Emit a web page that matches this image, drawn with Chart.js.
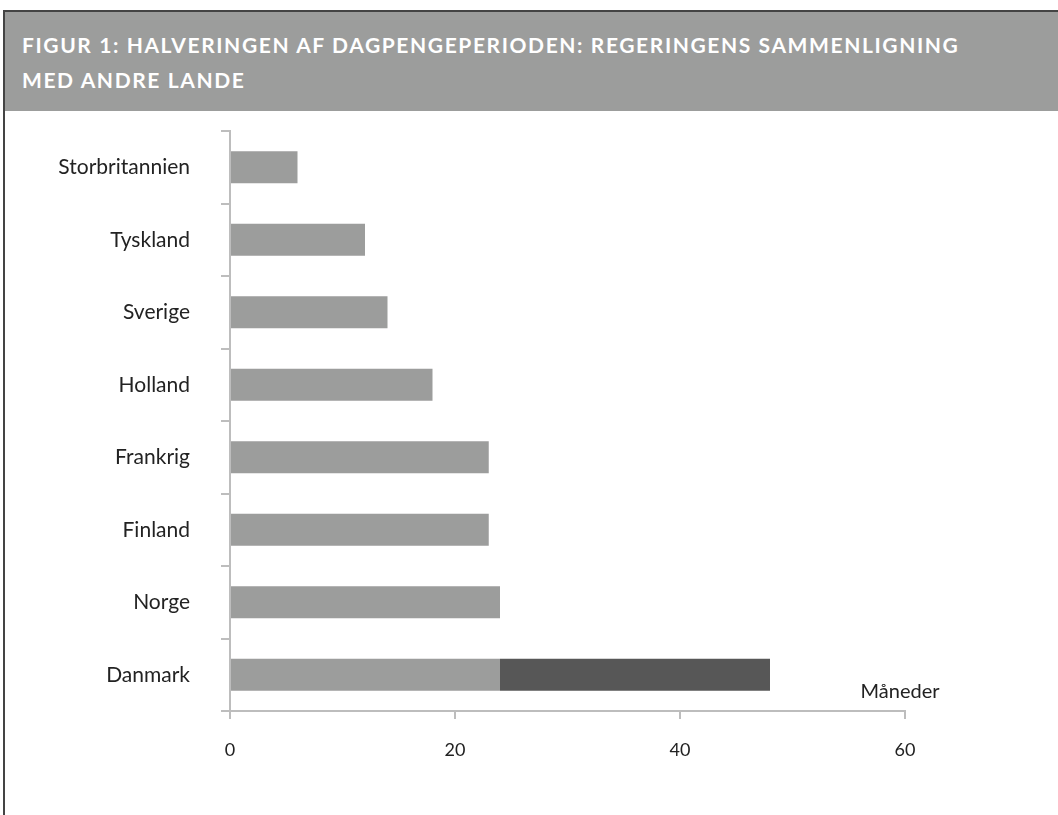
<!DOCTYPE html>
<html>
<head>
<meta charset="utf-8">
<script src="https://cdn.jsdelivr.net/npm/chart.js@4/dist/chart.umd.min.js"></script>
<style>
  body { margin: 0; background: #fff; width: 1058px; height: 815px; overflow: hidden; position: relative; }
  .ramme { position: absolute; left: 3px; top: 10px; width: 1100px; height: 900px; border: 2px solid #444; }
  .hoved { background: #9c9d9c; height: 99px; box-sizing: border-box; padding: 15px 0 0 17px; }
  .hoved h1 { margin: 0; color: #fff; font-family: Lato, sans-serif; font-weight: bold; font-size: 21px; line-height: 35px; letter-spacing: 1.6px; }
  .grafik { position: absolute; left: 0; top: 110px; width: 1058px; height: 705px; }
</style>
</head>
<body>
<div class="ramme">
  <div class="hoved"><h1>FIGUR 1: HALVERINGEN AF DAGPENGEPERIODEN: REGERINGENS SAMMENLIGNING<br>MED ANDRE LANDE</h1></div>
</div>
<div class="grafik"><canvas id="graf" width="1058" height="705"></canvas></div>
<script>
const lande = ['Storbritannien', 'Tyskland', 'Sverige', 'Holland', 'Frankrig', 'Finland', 'Norge', 'Danmark'];
const perioder = [6, 12, 14, 18, 23, 23, 24, 24];
const halvering = [0, 0, 0, 0, 0, 0, 0, 24];
const xTicks = [0, 20, 40, 60];
const enhed = 'Måneder';

const enhedPlugin = {
  id: 'enhed',
  afterDraw(chart) {
    const ctx = chart.ctx;
    const x = chart.scales.x;
    ctx.save();
    ctx.font = '20px Lato';
    ctx.fillStyle = '#222';
    ctx.textAlign = 'center';
    ctx.textBaseline = 'alphabetic';
    ctx.fillText(enhed, x.getPixelForValue(60) - 5, chart.chartArea.bottom - 13);
    ctx.restore();
  }
};

const ctx = document.getElementById('graf').getContext('2d');
new Chart(ctx, {
  type: 'bar',
  data: {
    labels: lande,
    datasets: [
      { data: perioder, backgroundColor: '#9c9d9c', barPercentage: 0.44, categoryPercentage: 1 },
      { data: halvering, backgroundColor: '#575757', barPercentage: 0.44, categoryPercentage: 1 }
    ]
  },
  options: {
    indexAxis: 'y',
    responsive: false,
    animation: false,
    layout: { padding: { top: 21, right: 153, left: 0, bottom: 0 } },
    plugins: { legend: { display: false }, tooltip: { enabled: false } },
    scales: {
      y: {
        stacked: true,
        afterFit(s) { s.width = 230; s.paddingTop = 0; s.paddingBottom = 0; },
        border: { color: '#bdbdbd', width: 2 },
        grid: { drawOnChartArea: false, drawTicks: true, tickLength: 9, color: '#bdbdbd', lineWidth: 2, offset: true },
        ticks: { color: '#222', font: { family: 'Lato', size: 21 }, padding: 31 }
      },
      x: {
        stacked: true,
        min: 0,
        max: 60,
        afterFit(s) { s.height = 104; },
        afterBuildTicks(s) { s.ticks = xTicks.map(v => ({ value: v })); },
        border: { color: '#bdbdbd', width: 2 },
        grid: { drawOnChartArea: false, drawTicks: true, tickLength: 8, color: '#bdbdbd', lineWidth: 2 },
        ticks: { color: '#222', font: { family: 'Lato', size: 18 }, padding: 20 }
      }
    }
  },
  plugins: [enhedPlugin]
});
</script>
</body>
</html>
